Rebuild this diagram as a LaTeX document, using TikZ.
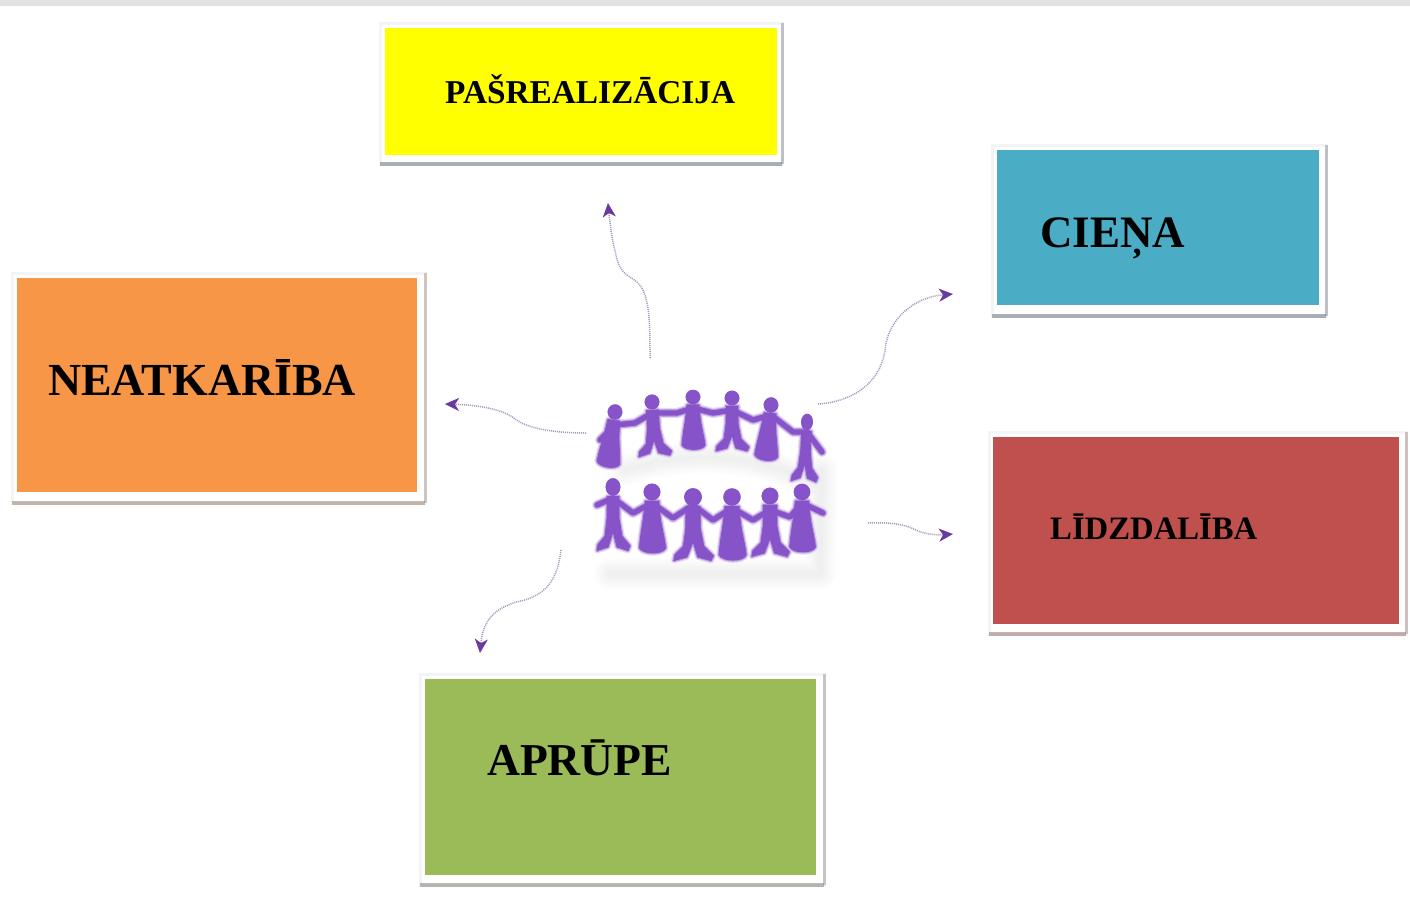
\documentclass[tikz,border=0pt]{standalone}
\usepackage{fontspec}
\setmainfont{Liberation Serif}
\usetikzlibrary{arrows.meta}
\definecolor{band}{HTML}{E2E2E2}
\definecolor{cyellow}{HTML}{FFFF00}
\definecolor{ccyan}{HTML}{4BACC6}
\definecolor{corange}{HTML}{F79646}
\definecolor{cred}{HTML}{C0504D}
\definecolor{cgreen}{HTML}{9BBB59}
\definecolor{frameline}{HTML}{F3F4F5}
\definecolor{edgeblue}{HTML}{6E7482}
\definecolor{edgebrown}{HTML}{98806C}
\definecolor{edgered}{HTML}{987272}
\definecolor{edgegreen}{HTML}{7E8474}
\definecolor{arrowpurple}{HTML}{6A3A9E}
\definecolor{dotpurple}{HTML}{A596BC}
\definecolor{people}{HTML}{8753C8}
\definecolor{glow}{HTML}{9A9F90}
\tikzset{
  x=1pt,y=-1pt,
  framebox/.style={draw=frameline,line width=3pt,fill=white,inner sep=0pt,outer sep=0pt,rectangle},
  colorbox/.style={inner sep=0pt,outer sep=0pt,rectangle},
  edgebottom/.style={line width=3.6pt,draw opacity=.55},
  edgeright/.style={line width=3pt,draw opacity=.4},
  label33/.style={anchor=base west,inner sep=0pt,font=\fontsize{#1}{36}\selectfont\bfseries},
  label45/.style={anchor=base west,inner sep=0pt,font=\fontsize{#1}{48}\selectfont\bfseries},
  link/.style={draw=dotpurple,line width=1.5pt,dash pattern=on 1pt off 1pt,
    -{Stealth[length=14pt,width=13pt,color=arrowpurple,inset=4pt]}},
  pers/.style={line join=round,line cap=round},
  pics/dress/.style={code={
    \fill[pers] (0,0) circle (7.4);
    \path[pers,fill,draw] (-6,8) -- (6,8) -- (7,20) .. controls (8,30) and (11,40) .. (12,49)
      .. controls (10,55) and (-8,55) .. (-11,49) .. controls (-10,36) and (-8,28) .. (-7,18) -- cycle;
  }},
  pics/trousers/.style={code={
    \fill[pers] (0,0) circle (7.4);
    \path[pers,fill,draw] (-6,8) -- (6,8) -- (6,26) -- (9,41) -- (17,49) -- (15,53) -- (4,50)
      -- (0,37) -- (-5,50) -- (-16,53) -- (-15,48) -- (-8,41) -- (-6,26) -- cycle;
  }},
}
\newcommand{\crowdlayer}[2]{%
  \begin{scope}[draw=#1,fill=#1,line width=#2]
    \path (615,412) pic[rotate=-8,yscale=1.04] {dress};
    \path (652,402) pic[rotate=3,yscale=1.02] {trousers};
    \path (693,397) pic[yscale=.98] {dress};
    \path (732,398) pic {trousers};
    \path (771,405) pic[rotate=-6,yscale=1.04] {dress};
    \path (807,422) pic[rotate=-3,xscale=.8,yscale=1.12] {trousers};
    \path (613,487) pic[yscale=1.2] {trousers};
    \path (652,492) pic[scale=1.14] {dress};
    \path (693,497) pic[scale=1.2] {trousers};
    \path (732,497) pic[scale=1.18] {dress};
    \path (770,496) pic[scale=1.14] {trousers};
    \path (802,492) pic[scale=1.12] {dress};
    \draw[line width=4.6pt+#2,line join=round,line cap=round,fill=none]
      (600,440) -- (615,425) -- (635,423) -- (652,413) -- (677,413) -- (693,408) -- (713,413)
      -- (732,410) -- (753,420) -- (771,415) -- (793,432) -- (807,432) -- (822,452);
    \draw[line width=4.6pt+#2,line join=round,line cap=round,fill=none]
      (597,505) -- (613,498) -- (633,513) -- (652,503) -- (673,518) -- (693,505) -- (713,520)
      -- (732,508) -- (753,520) -- (770,510) -- (790,517) -- (802,503) -- (823,513);
  \end{scope}}
\begin{document}
\begin{tikzpicture}
\useasboundingbox (0,0) rectangle (1410,898);
\fill[white] (0,0) rectangle (1410,898);
\fill[band] (0,0) rectangle (1410,6);

% soft backdrop behind the figures
\foreach \w in {4,8,...,32}{
  \draw[glow,line width=\w pt,opacity=.014,line cap=round,line join=round]
    (610,574) -- (820,574) -- (822,470);
  \draw[glow,line width=\w pt,opacity=.012,line cap=round]
    (625,470) .. controls (680,452) and (750,452) .. (805,480);
}

% boxes
\node[framebox,minimum width=402pt,minimum height=141pt] (pframe) at (581,93.5) {};
\draw[edgeright,edgeblue] (pframe.north east) -- (pframe.south east);
\draw[edgebottom,edgeblue] (pframe.south west) -- (pframe.south east);
\node[colorbox,fill=cyellow,minimum width=392pt,minimum height=127pt] (pbox) at (581,91.5) {};
\node[label33=33.3] (ptext) at (445,103) {PAŠREALIZĀCIJA};

\node[framebox,minimum width=334pt,minimum height=171pt] (cframe) at (1159,230.5) {};
\draw[edgeright,edgeblue] (cframe.north east) -- (cframe.south east);
\draw[edgebottom,edgeblue] (cframe.south west) -- (cframe.south east);
\node[colorbox,fill=ccyan,minimum width=322pt,minimum height=155pt] (cbox) at (1158,227.5) {};
\node[label45=45] (ctext) at (1040,247) {CIEŅA};

\node[framebox,minimum width=413pt,minimum height=230pt] (nframe) at (218.5,388) {};
\draw[edgeright,edgebrown] (nframe.north east) -- (nframe.south east);
\draw[edgebottom,edgebrown] (nframe.south west) -- (nframe.south east);
\node[colorbox,fill=corange,minimum width=400pt,minimum height=214pt] (nbox) at (217,385) {};
\node[label45=45.9] (ntext) at (48,395) {NEATKARĪBA};

\node[framebox,minimum width=417pt,minimum height=202pt] (lframe) at (1197.5,533) {};
\draw[edgeright,edgered] (lframe.north east) -- (lframe.south east);
\draw[edgebottom,edgered] (lframe.south west) -- (lframe.south east);
\node[colorbox,fill=cred,minimum width=406pt,minimum height=187pt] (lbox) at (1196,530.5) {};
\node[label33=32.7] (ltext) at (1050,539) {LĪDZDALĪBA};

\node[framebox,minimum width=404pt,minimum height=211pt] (aframe) at (622,779.5) {};
\draw[edgeright,edgegreen] (aframe.north east) -- (aframe.south east);
\draw[edgebottom,edgegreen] (aframe.south west) -- (aframe.south east);
\node[colorbox,fill=cgreen,minimum width=391pt,minimum height=196pt] (abox) at (620.5,777) {};
\node[label45=45.6] (atext) at (487,775) {APRŪPE};

% figures
\crowdlayer{people!22}{5.5pt}
\crowdlayer{people!55}{3pt}
\crowdlayer{people}{.8pt}

% connector ends
\coordinate (s1) at (650,358); \coordinate (t1) at (608,203);
\coordinate (s2) at (586,433); \coordinate (t2) at (445,404);
\coordinate (s3) at (818,404); \coordinate (t3) at (953,294);
\coordinate (s4) at (868,523); \coordinate (t4) at (953,534);
\coordinate (s5) at (561,550); \coordinate (t5) at (480,653);

\draw[link] (s1) .. controls (650,325) and (650,295) .. (638,283)
  .. controls (628,274) and (620,275) .. (616,255)
  .. controls (612,240) and (610,225) .. (t1);
\draw[link] (s2) .. controls (560,433) and (530,430) .. (515,419)
  .. controls (505,410) and (480,405) .. (t2);
\draw[link] (s3) .. controls (850,402) and (880,385) .. (885,350)
  .. controls (888,318) and (915,297) .. (t3);
\draw[link] (s4) .. controls (890,522) and (905,524) .. (918,531)
  .. controls (928,535) and (940,535) .. (t4);
\draw[link] (s5) .. controls (558,575) and (550,592) .. (525,600)
  .. controls (495,606) and (483,620) .. (t5);
\end{tikzpicture}
\end{document}
